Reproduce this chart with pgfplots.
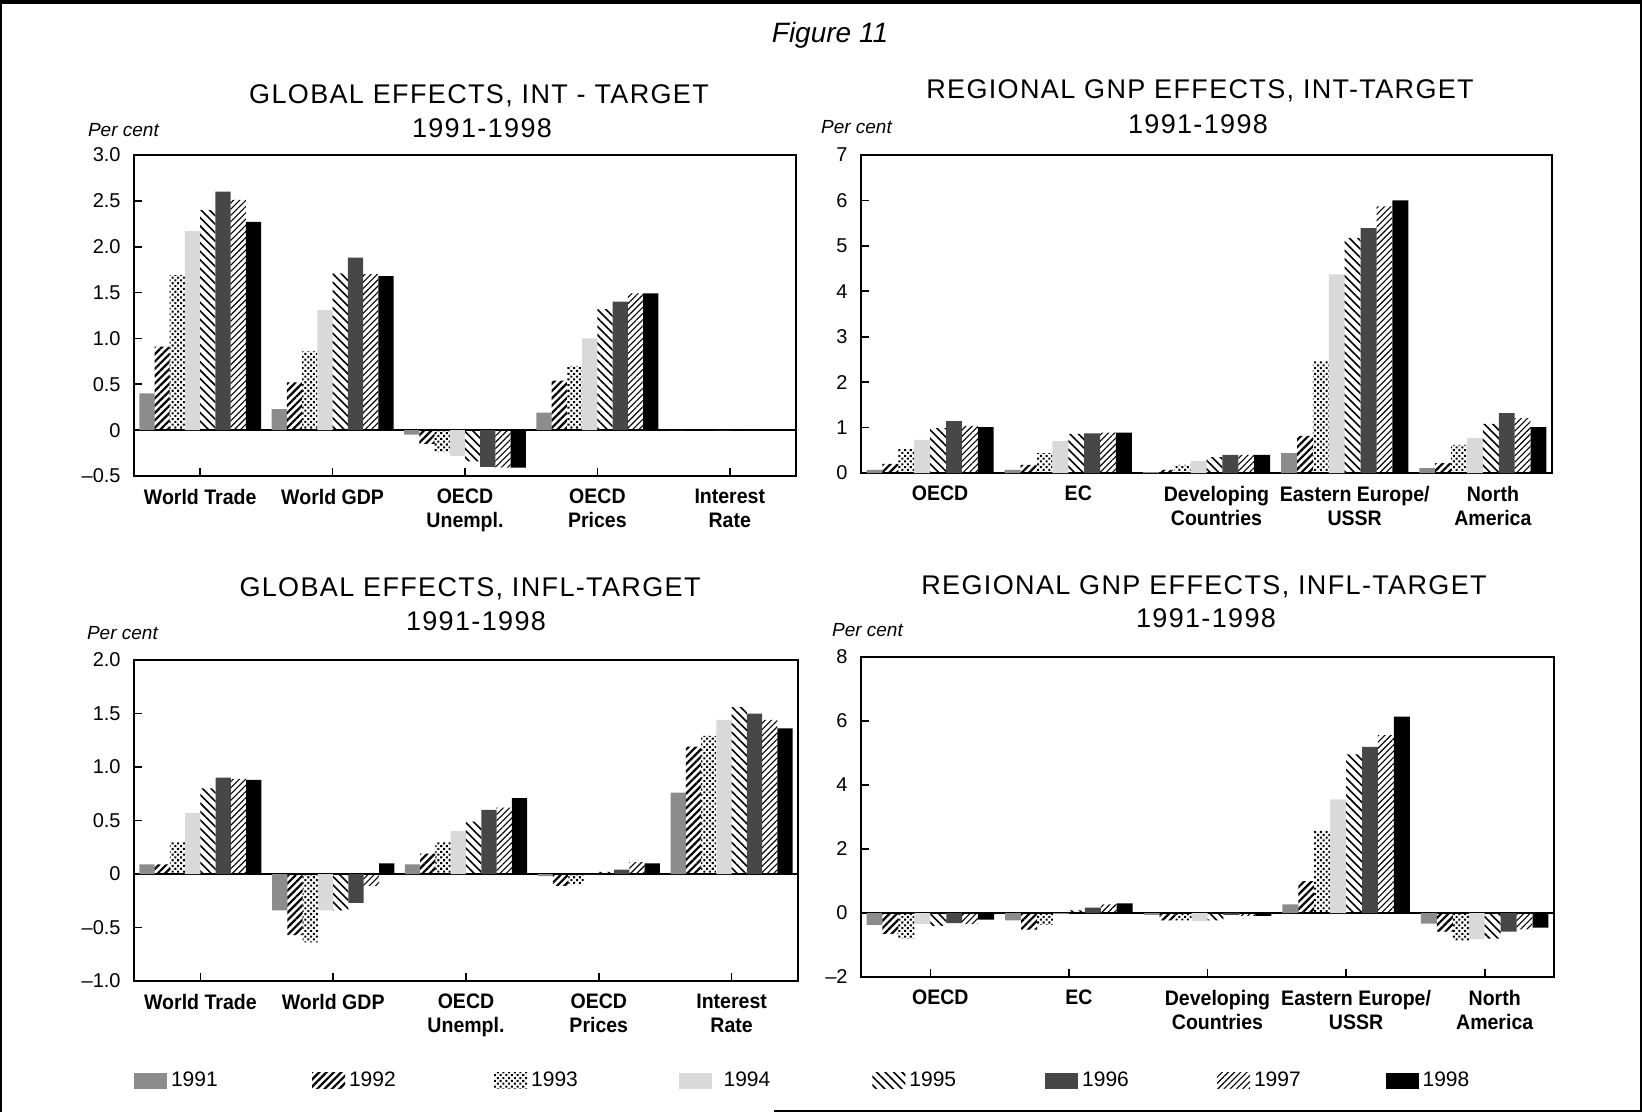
\documentclass[border=0pt]{standalone}
\usepackage{fontspec}
\setmainfont{Liberation Sans}
\newfontfamily\ttlfont[LetterSpace=5]{Liberation Sans}
\newfontfamily\lblfont[FakeStretch=0.93]{Liberation Sans}
\usepackage{pgfplots}
\pgfplotsset{compat=1.18}
\usepackage{pgfplotstable}
\usetikzlibrary{patterns.meta}

% columns: a=1991 ... h=1998
\pgfplotstableread{
x a b c d e f g h
0 0.40 0.91 1.69 2.17 2.40 2.60 2.51 2.27
1 0.23 0.52 0.86 1.31 1.71 1.88 1.70 1.68
2 -0.05 -0.15 -0.24 -0.28 -0.34 -0.40 -0.41 -0.41
3 0.19 0.54 0.70 1.00 1.32 1.40 1.49 1.49
4 0 0 0 0 0 0 0 0
}\tl
\pgfplotstableread{
x a b c d e f g h
0 0.07 0.20 0.53 0.73 0.99 1.14 1.04 1.01
1 0.07 0.18 0.44 0.70 0.86 0.87 0.89 0.89
2 0.02 0.07 0.18 0.26 0.35 0.40 0.40 0.40
3 0.44 0.82 2.46 4.37 5.17 5.39 5.87 6.00
4 0.11 0.22 0.62 0.77 1.08 1.32 1.21 1.01
}\tr
\pgfplotstableread{
x a b c d e f g h
0 0.09 0.09 0.30 0.57 0.80 0.90 0.89 0.88
1 -0.34 -0.57 -0.64 -0.34 -0.34 -0.27 -0.11 0.10
2 0.09 0.19 0.30 0.40 0.49 0.60 0.62 0.71
3 -0.02 -0.11 -0.10 0.00 0.02 0.04 0.11 0.10
4 0.76 1.19 1.29 1.44 1.56 1.50 1.44 1.36
}\bl
\pgfplotstableread{
x a b c d e f g h
0 -0.37 -0.65 -0.80 -0.35 -0.40 -0.32 -0.35 -0.21
1 -0.23 -0.52 -0.37 -0.02 0.08 0.17 0.27 0.30
2 -0.06 -0.23 -0.23 -0.25 -0.23 -0.06 -0.09 -0.09
3 0.27 1.00 2.58 3.55 4.96 5.19 5.56 6.14
4 -0.33 -0.58 -0.88 -0.82 -0.80 -0.58 -0.51 -0.46
}\br

\tikzset{
 s91/.style={fill=black!45, draw=none},
 s92/.style={draw=none, pattern={Lines[angle=45,distance=2.6pt,line width=1.1pt]}},
 s93/.style={draw=none, pattern={Dots[angle=45,distance=2pt,radius=0.72pt]}},
 s94/.style={fill=black!15, draw=none},
 s95/.style={draw=none, pattern={Lines[angle=-45,distance=3pt,line width=0.8pt]}},
 s96/.style={fill=black!72, draw=none},
 s97/.style={draw=none, pattern={Lines[angle=45,distance=2.2pt,line width=0.55pt]}},
 s98/.style={fill=black, draw=none},
}

\newcommand\bars[1]{%
 \addplot[s91,bar shift=-0.4025] table[x=x,y=a]{#1};
 \addplot[s92,bar shift=-0.2875] table[x=x,y=b]{#1};
 \addplot[s93,bar shift=-0.1725] table[x=x,y=c]{#1};
 \addplot[s94,bar shift=-0.0575] table[x=x,y=d]{#1};
 \addplot[s95,bar shift=0.0575] table[x=x,y=e]{#1};
 \addplot[s96,bar shift=0.1725] table[x=x,y=f]{#1};
 \addplot[s97,bar shift=0.2875] table[x=x,y=g]{#1};
 \addplot[s98,bar shift=0.4025] table[x=x,y=h]{#1};
}

\pgfplotsset{
 panel/.style={
  scale only axis, anchor=south west,
  ybar, bar width=0.115,
  xmin=-0.5, xmax=4.5, xtick={0,1,2,3,4},
  axis line style={line width=0.9pt},
  tick style={black, line width=0.8pt},
  tick align=inside, major tick length=4pt,
  xtick pos=left, ytick pos=left,
  yticklabel style={anchor=east, inner sep=0pt, xshift=-6.5pt, font=\fontsize{10}{12}\selectfont},
  xticklabel style={anchor=north, inner sep=0pt, yshift=-6.3pt, align=center, font=\lblfont\bfseries\fontsize{10.5}{12}\selectfont},
  legend image code/.code={\fill[##1] (0pt,-4pt) rectangle (16.5pt,4pt);},
 },
 zeroline/.style={
  extra y ticks={0}, extra y tick labels={},
  extra y tick style={grid=major, major grid style={black, line width=1.2pt}, major tick length=0pt},
 },
}

\begin{document}
\begin{tikzpicture}
\path[use as bounding box] (0,0) rectangle (821pt,-556pt);
\draw[line width=2pt] (0,-1pt) -- (821pt,-1pt);
\draw[line width=1.2pt] (0.6pt,0) -- (0.6pt,-556pt);
\draw[line width=1.2pt] (820.4pt,0) -- (820.4pt,-556pt);
\draw[line width=1pt] (387pt,-555.5pt) -- (821pt,-555.5pt);

\node[anchor=base, font=\itshape\fontsize{14}{16}\selectfont] at (415pt,-21.5pt) {Figure 11};

\node[anchor=base, font=\ttlfont\fontsize{13.5}{16}\selectfont] at (239.5pt,-52pt) {GLOBAL EFFECTS, INT - TARGET};
\node[anchor=base, font=\ttlfont\fontsize{13.5}{16}\selectfont] at (241pt,-69pt) {1991-1998};
\node[anchor=base west, font=\itshape\fontsize{9.5}{11}\selectfont] at (40.5pt,-68.5pt) {Per cent};

\node[anchor=base, font=\ttlfont\fontsize{13.5}{16}\selectfont] at (600pt,-49.5pt) {REGIONAL GNP EFFECTS, INT-TARGET};
\node[anchor=base, font=\ttlfont\fontsize{13.5}{16}\selectfont] at (599pt,-67pt) {1991-1998};
\node[anchor=base west, font=\itshape\fontsize{9.5}{11}\selectfont] at (407pt,-67pt) {Per cent};

\node[anchor=base, font=\ttlfont\fontsize{13.5}{16}\selectfont] at (235pt,-298pt) {GLOBAL EFFECTS, INFL-TARGET};
\node[anchor=base, font=\ttlfont\fontsize{13.5}{16}\selectfont] at (238pt,-315pt) {1991-1998};
\node[anchor=base west, font=\itshape\fontsize{9.5}{11}\selectfont] at (40pt,-319.5pt) {Per cent};

\node[anchor=base, font=\ttlfont\fontsize{13.5}{16}\selectfont] at (602pt,-297pt) {REGIONAL GNP EFFECTS, INFL-TARGET};
\node[anchor=base, font=\ttlfont\fontsize{13.5}{16}\selectfont] at (603pt,-313.5pt) {1991-1998};
\node[anchor=base west, font=\itshape\fontsize{9.5}{11}\selectfont] at (412.5pt,-318pt) {Per cent};

% top left
\begin{axis}[panel, zeroline, at={(67pt,-238pt)}, width=331pt, height=160.5pt,
  ymin=-0.5, ymax=3, ytick={-0.5,0,0.5,1,1.5,2,2.5,3},
  yticklabels={--0.5,0,0.5,1.0,1.5,2.0,2.5,3.0},
  xticklabels={World Trade,World GDP,OECD\\Unempl.,OECD\\Prices,Interest\\Rate}]
\bars{\tl}
\end{axis}

% top right
\begin{axis}[panel, at={(430.5pt,-236.5pt)}, width=345.5pt, height=159pt,
  ymin=0, ymax=7, ytick={0,1,2,3,4,5,6,7},
  yticklabels={0,1,2,3,4,5,6,7},
  xtick style={draw=none},
  xticklabel style={xshift=5pt},
  xticklabels={OECD,EC,Developing\\Countries,Eastern Europe/\\USSR,North\\America}]
\bars{\tr}
\end{axis}

% bottom left
\begin{axis}[panel, zeroline, at={(67pt,-490.5pt)}, width=332pt, height=160.5pt,
  ymin=-1, ymax=2, ytick={-1,-0.5,0,0.5,1,1.5,2},
  yticklabels={--1.0,--0.5,0,0.5,1.0,1.5,2.0},
  xticklabels={World Trade,World GDP,OECD\\Unempl.,OECD\\Prices,Interest\\Rate},
  legend columns=8,
  legend style={at={(0,-0.31)}, anchor=west, draw=none, fill=none, inner sep=0pt, outer sep=0pt,
    column sep=0pt, nodes={inner sep=2pt}, font=\fontsize{10.5}{12}\selectfont}]
\bars{\bl}
\legend{\makebox[68.5pt][l]{1991},\makebox[70.6pt][l]{1992},\makebox[71.7pt][l]{1993},\makebox[76.4pt][l]{\hspace{4pt}1994},\makebox[65.9pt][l]{1995},\makebox[65.4pt][l]{1996},\makebox[63.8pt][l]{1997},\makebox[30pt][l]{1998}}
\end{axis}

% bottom right
\begin{axis}[panel, zeroline, at={(430.5pt,-488.5pt)}, width=346.5pt, height=160pt,
  ymin=-2, ymax=8, ytick={-2,0,2,4,6,8},
  yticklabels={--2,0,2,4,6,8},
  xticklabel style={xshift=5pt},
  xticklabels={OECD,EC,Developing\\Countries,Eastern Europe/\\USSR,North\\America}]
\bars{\br}
\end{axis}
\end{tikzpicture}
\end{document}
